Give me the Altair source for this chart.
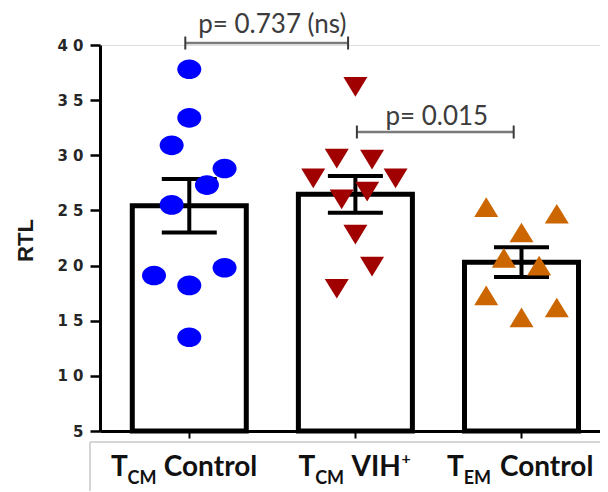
import altair as alt
import pandas as pd

# ---------------- data ----------------
groups = ["TCM Control", "TCM VIH+", "TEM Control"]
blue_vals = [37.8, 33.4, 30.9, 28.8, 27.3, 25.5, 19.1, 19.8, 18.2, 13.5]
red_vals = [36.2, 29.7, 29.6, 27.9, 27.9, 26.7, 26.0, 22.8, 19.9, 17.9]
orange_vals = [25.3, 24.7, 23.0, 20.7, 20.0, 17.3, 16.2, 15.3]

# beeswarm columns of the scatter (pixel offsets, layout only)
blue_jit = [0, 0, -18, 36, 18, -18, -36, 36, 0, 0]
red_jit = [0, -19, 17, -43, 41, 12, -14, 0, 17, -19]
orange_jit = [-36, 36, 0, -18, 18, -36, 36, 0]

# significance annotations
brackets_x1 = [0.976, 2.009]
brackets_x2 = [1.956, 2.953]
brackets_y = [40.18, 32.11]
p_text = ["p= 0.737 (ns)", "p= 0.015"]
p_x = [1.50, 2.49]
p_y = [41.1, 32.75]

# category labels (T + subscript + rest + superscript)
lab_T = ["T", "T", "T"]
lab_sub = ["CM", "CM", "EM"]
lab_main = ["Control", "VIH", "Control"]
lab_sup = ["", "+", ""]

# ---------------- layout ----------------
W, H = 500, 386
X0, X1 = 0.4926, 3.4425
PXU = W / (X1 - X0)
lead_px = [-80, -58, -76]

ELLIPSE = "M-1,0A1,0.82,0,1,0,1,0A1,0.82,0,1,0,-1,0Z"
TRI_DOWN = "M-1,-0.82L1,-0.82L0,0.82Z"
TRI_UP = "M-1,0.82L1,0.82L0,-0.82Z"

rows = []
for gi, (vals, jit) in enumerate([(blue_vals, blue_jit), (red_vals, red_jit), (orange_vals, orange_jit)]):
    for v, j in zip(vals, jit):
        rows.append({"group": groups[gi], "idx": gi + 1, "value": v, "xp": gi + 1 + j / PXU})
pts = pd.DataFrame(rows)

brk = pd.DataFrame({"x1": brackets_x1, "x2": brackets_x2, "y": brackets_y})
ptx = pd.DataFrame({"x": p_x, "y": p_y, "t": p_text})

lab_rows = []
for i in range(3):
    xT = i + 1 + lead_px[i] / PXU
    lab_rows.append({"T": lab_T[i], "sub": lab_sub[i], "main": lab_main[i], "sup": lab_sup[i],
                     "xT": xT, "xs": xT + 17 / PXU, "xm": xT + 54 / PXU, "xu": xT + 105 / PXU})
labs = pd.DataFrame(lab_rows)

xscale = alt.Scale(domain=[X0, X1], nice=False, zero=False)
yscale = alt.Scale(domain=[5, 40], nice=False, zero=False)

x_axis = alt.Axis(values=[1, 2, 3], labels=False, title=None)
y_axis = alt.Axis(values=[5, 10, 15, 20, 25, 30, 35, 40],
                  labelExpr="datum.value >= 10 ? floor(datum.value/10) + ' ' + (datum.value % 10) : datum.label",
                  title="RTL")

base = alt.Chart(pts)

stats = base.transform_aggregate(
    mean="mean(value)", se="stderr(value)", groupby=["idx"]
).transform_calculate(lo="datum.mean - datum.se", hi="datum.mean + datum.se")

bars = stats.mark_bar(fill="white", stroke="black", strokeWidth=5, size=114).encode(
    x=alt.X("idx:Q", scale=xscale, axis=x_axis),
    y=alt.Y("mean:Q", scale=yscale, axis=y_axis),
    y2=alt.datum(5),
)
err = stats.mark_rule(color="black", strokeWidth=4).encode(
    x=alt.X("idx:Q", scale=xscale), y=alt.Y("lo:Q", scale=yscale), y2="hi:Q")
caps = stats.transform_fold(["lo", "hi"], as_=["k", "v"]).mark_tick(
    orient="horizontal", size=55, thickness=4, color="black", opacity=1).encode(
    x=alt.X("idx:Q", scale=xscale), y=alt.Y("v:Q", scale=yscale))

points = base.mark_point(filled=True, opacity=1, size=576, strokeWidth=0).encode(
    x=alt.X("xp:Q", scale=xscale),
    y=alt.Y("value:Q", scale=yscale),
    color=alt.Color("group:N", scale=alt.Scale(domain=groups, range=["#0000FF", "#A00000", "#CC6600"]), legend=None),
    shape=alt.Shape("group:N", scale=alt.Scale(domain=groups, range=[ELLIPSE, TRI_DOWN, TRI_UP]), legend=None),
)

bb = alt.Chart(brk)
br_lines = bb.mark_rule(color="#7a7a7a", strokeWidth=2.5).encode(
    x=alt.X("x1:Q", scale=xscale), x2="x2:Q", y=alt.Y("y:Q", scale=yscale))
br_c1 = bb.mark_tick(orient="vertical", size=13, thickness=2, color="#3a3a3a", opacity=1).encode(
    x=alt.X("x1:Q", scale=xscale), y=alt.Y("y:Q", scale=yscale))
br_c2 = bb.mark_tick(orient="vertical", size=13, thickness=2, color="#3a3a3a", opacity=1).encode(
    x=alt.X("x2:Q", scale=xscale), y=alt.Y("y:Q", scale=yscale))
ptext = alt.Chart(ptx).mark_text(font="Lato", fontSize=26, color="#3c3c3c", align="center",
                                 baseline="alphabetic").encode(
    x=alt.X("x:Q", scale=xscale), y=alt.Y("y:Q", scale=yscale), text="t:N")

lb = alt.Chart(labs)
tT = lb.mark_text(font="Lato", fontWeight="bold", fontSize=28, color="#111111", align="left",
                  baseline="alphabetic").encode(x=alt.X("xT:Q", scale=xscale), y=alt.value(431), text="T:N")
tS = lb.mark_text(font="Lato", fontWeight="bold", fontSize=18, color="#111111", align="left",
                  baseline="alphabetic").encode(x=alt.X("xs:Q", scale=xscale), y=alt.value(439), text="sub:N")
tM = lb.mark_text(font="Lato", fontWeight="bold", fontSize=28, color="#111111", align="left",
                  baseline="alphabetic").encode(x=alt.X("xm:Q", scale=xscale), y=alt.value(431), text="main:N")
tU = lb.mark_text(font="Lato", fontWeight="bold", fontSize=16, color="#111111", align="left",
                  baseline="alphabetic").encode(x=alt.X("xu:Q", scale=xscale), y=alt.value(419), text="sup:N")

frame_h = alt.Chart(labs).mark_rule(color="#d0d0d0", strokeWidth=1).encode(
    x=alt.value(-10), x2=alt.value(W), y=alt.value(397))
frame_v = alt.Chart(labs).mark_rule(color="#d0d0d0", strokeWidth=1).encode(
    x=alt.value(-10), y=alt.value(397), y2=alt.value(H + 60))

chart = alt.layer(
    frame_h, frame_v, bars, err, caps, points, br_lines, br_c1, br_c2, ptext, tT, tS, tM, tU
).properties(
    width=W, height=H,
    autosize=alt.AutoSizeParams(type="none"),
    padding={"left": 92, "top": 37, "right": 0, "bottom": 60},
).configure_view(stroke=None).configure(background="white").configure_axisX(
    tickSize=7, tickWidth=2, tickColor="black", domainColor="black", domainWidth=3, grid=False
).configure_axisY(
    tickSize=10, tickWidth=2.5, tickColor="black", domainColor="black", domainWidth=3, grid=False,
    labelFont="DejaVu Sans", labelFontWeight="bold", labelFontSize=15, labelColor="#262626",
    labelPadding=7, labelAlign="right",
    titleFont="Liberation Sans", titleFontSize=22, titleFontWeight="bold",
    titleColor="#1a1a1a", titleX=-75, titleY=195, titleAlign="center", titleBaseline="middle"
)

chart.save("out.html", embed_options={"renderer": "svg", "actions": False})
